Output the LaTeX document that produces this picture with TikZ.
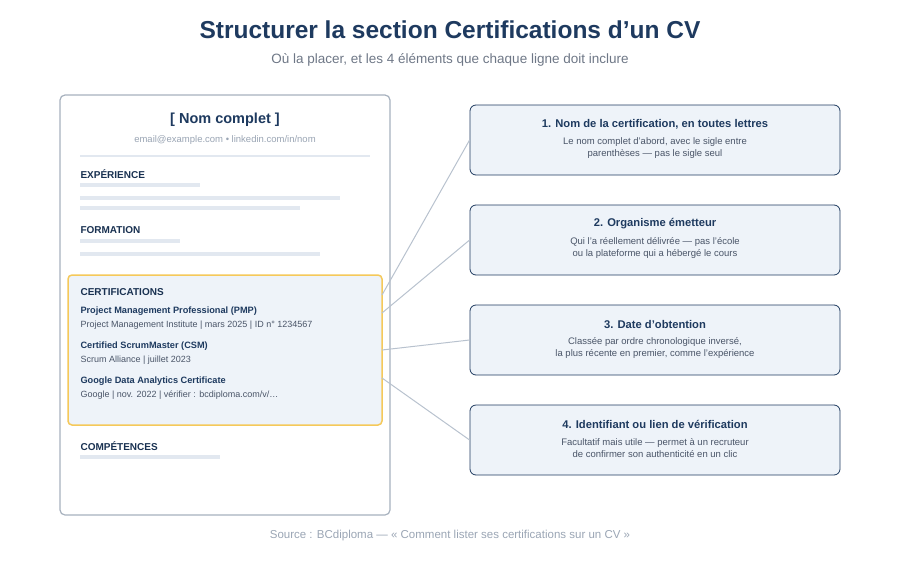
\documentclass[tikz,border=0pt]{standalone}
\usepackage{fontspec}
\setmainfont{Liberation Sans}
\usetikzlibrary{positioning}
\definecolor{navy}{HTML}{1E3A5F}
\definecolor{txtgray}{HTML}{4A5568}
\definecolor{lightgray}{HTML}{9AA5B4}
\definecolor{barcol}{HTML}{E2E8F0}
\definecolor{boxfill}{HTML}{EEF3F9}
\definecolor{gold}{HTML}{F5C95A}
\definecolor{cardline}{HTML}{A7B1BE}
\definecolor{linkcol}{HTML}{B8C2CE}
\tikzset{
  head/.style={anchor=west,font=\bfseries\fontsize{10}{12}\selectfont,text=navy!85!black},
  certname/.style={anchor=west,font=\bfseries\fontsize{9.2}{11}\selectfont,text=navy},
  certinfo/.style={anchor=west,font=\fontsize{9}{11}\selectfont,text=txtgray},
  bar/.style={barcol,line width=4.5pt},
  tipbox/.style={draw=navy,line width=0.8pt,fill=boxfill,rounded corners=6pt,
    minimum width=370pt,minimum height=70pt},
  tiptitle/.style={font=\bfseries\fontsize{11.2}{13}\selectfont,text=navy},
  tiptext/.style={font=\fontsize{9.5}{12.5}\selectfont,text=txtgray,align=center},
  link/.style={linkcol,line width=1pt}
}
\begin{document}
\begin{tikzpicture}[x=1pt,y=-1pt]
    \useasboundingbox (0,0) rectangle (900,560);

    % Titre
    \node[font=\bfseries\fontsize{24.5}{28}\selectfont,text=navy] (title) at (450,30)
        {Structurer la section Certifications d'un CV};
    \node[font=\fontsize{13.5}{16}\selectfont,text=txtgray!80] (subtitle) at (450,60)
        {Où la placer, et les 4 éléments que chaque ligne doit inclure};

    % Encadres de droite
    \foreach \i/\y/\t/\a/\b in {
        1/140/{1. Nom de la certification, en toutes lettres}/{Le nom complet d'abord, avec le sigle entre}/{parenthèses — pas le sigle seul},
        2/240/{2. Organisme émetteur}/{Qui l'a réellement délivrée — pas l'école}/{ou la plateforme qui a hébergé le cours},
        3/340/{3. Date d'obtention}/{Classée par ordre chronologique inversé,}/{la plus récente en premier, comme l'expérience},
        4/440/{4. Identifiant ou lien de vérification}/{Facultatif mais utile — permet à un recruteur}/{de confirmer son authenticité en un clic}} {
        \node[tipbox] (tip\i) at (655,\y) {};
        \node[tiptitle] at (655,\y-16) {\t};
        \node[tiptext] at (655,\y+8) {\a\\\b};
    }

    % Carte CV
    \draw[cardline,line width=1.2pt,fill=white,rounded corners=5pt] (60,95) rectangle (390,515);
    \node[font=\bfseries\fontsize{14.5}{17}\selectfont,text=navy] (name) at (225,120) {[ Nom complet ]};
    \node[font=\fontsize{9.5}{11}\selectfont,text=lightgray] (contact) at (225,140)
        {email@example.com • linkedin.com/in/nom};
    \draw[barcol,line width=1.2pt] (80,156) -- (370,156);

    \node[head] (exp) at (77,174) {EXPÉRIENCE};
    \draw[bar] (80,185) -- (200,185);
    \draw[bar] (80,198) -- (340,198);
    \draw[bar] (80,208) -- (300,208);

    \node[head] (form) at (77,230) {FORMATION};
    \draw[bar] (80,241) -- (180,241);
    \draw[bar] (80,254) -- (320,254);

    % Bloc certifications
    \draw[gold,line width=1.5pt,fill=boxfill,rounded corners=4pt] (68,275) rectangle (382,425);
    \node[head] (certs) at (77,292) {CERTIFICATIONS};
    \node[certname] (pmp) at (77,311) {Project Management Professional (PMP)};
    \node[certinfo] at (77,325) {Project Management Institute | mars 2025 | ID n° 1234567};
    \node[certname] (csm) at (77,346) {Certified ScrumMaster (CSM)};
    \node[certinfo] at (77,360) {Scrum Alliance | juillet 2023};
    \node[certname] (gda) at (77,381) {Google Data Analytics Certificate};
    \node[certinfo] at (77,395) {Google | nov. 2022 | vérifier : bcdiploma.com/v/…};

    \node[head] (comp) at (77,446) {COMPÉTENCES};
    \draw[bar] (80,457) -- (220,457);

    % Connecteurs
    \coordinate (c1) at (382,295);
    \coordinate (c2) at (382,313);
    \coordinate (c3) at (382,350);
    \coordinate (c4) at (382,378);
    \foreach \i in {1,...,4}
        \draw[link] (c\i) -- (tip\i.west);

    % Source
    \node[font=\fontsize{11.5}{13}\selectfont,text=lightgray] (source) at (450,536)
        {Source : BCdiploma — « Comment lister ses certifications sur un CV »};
\end{tikzpicture}
\end{document}
